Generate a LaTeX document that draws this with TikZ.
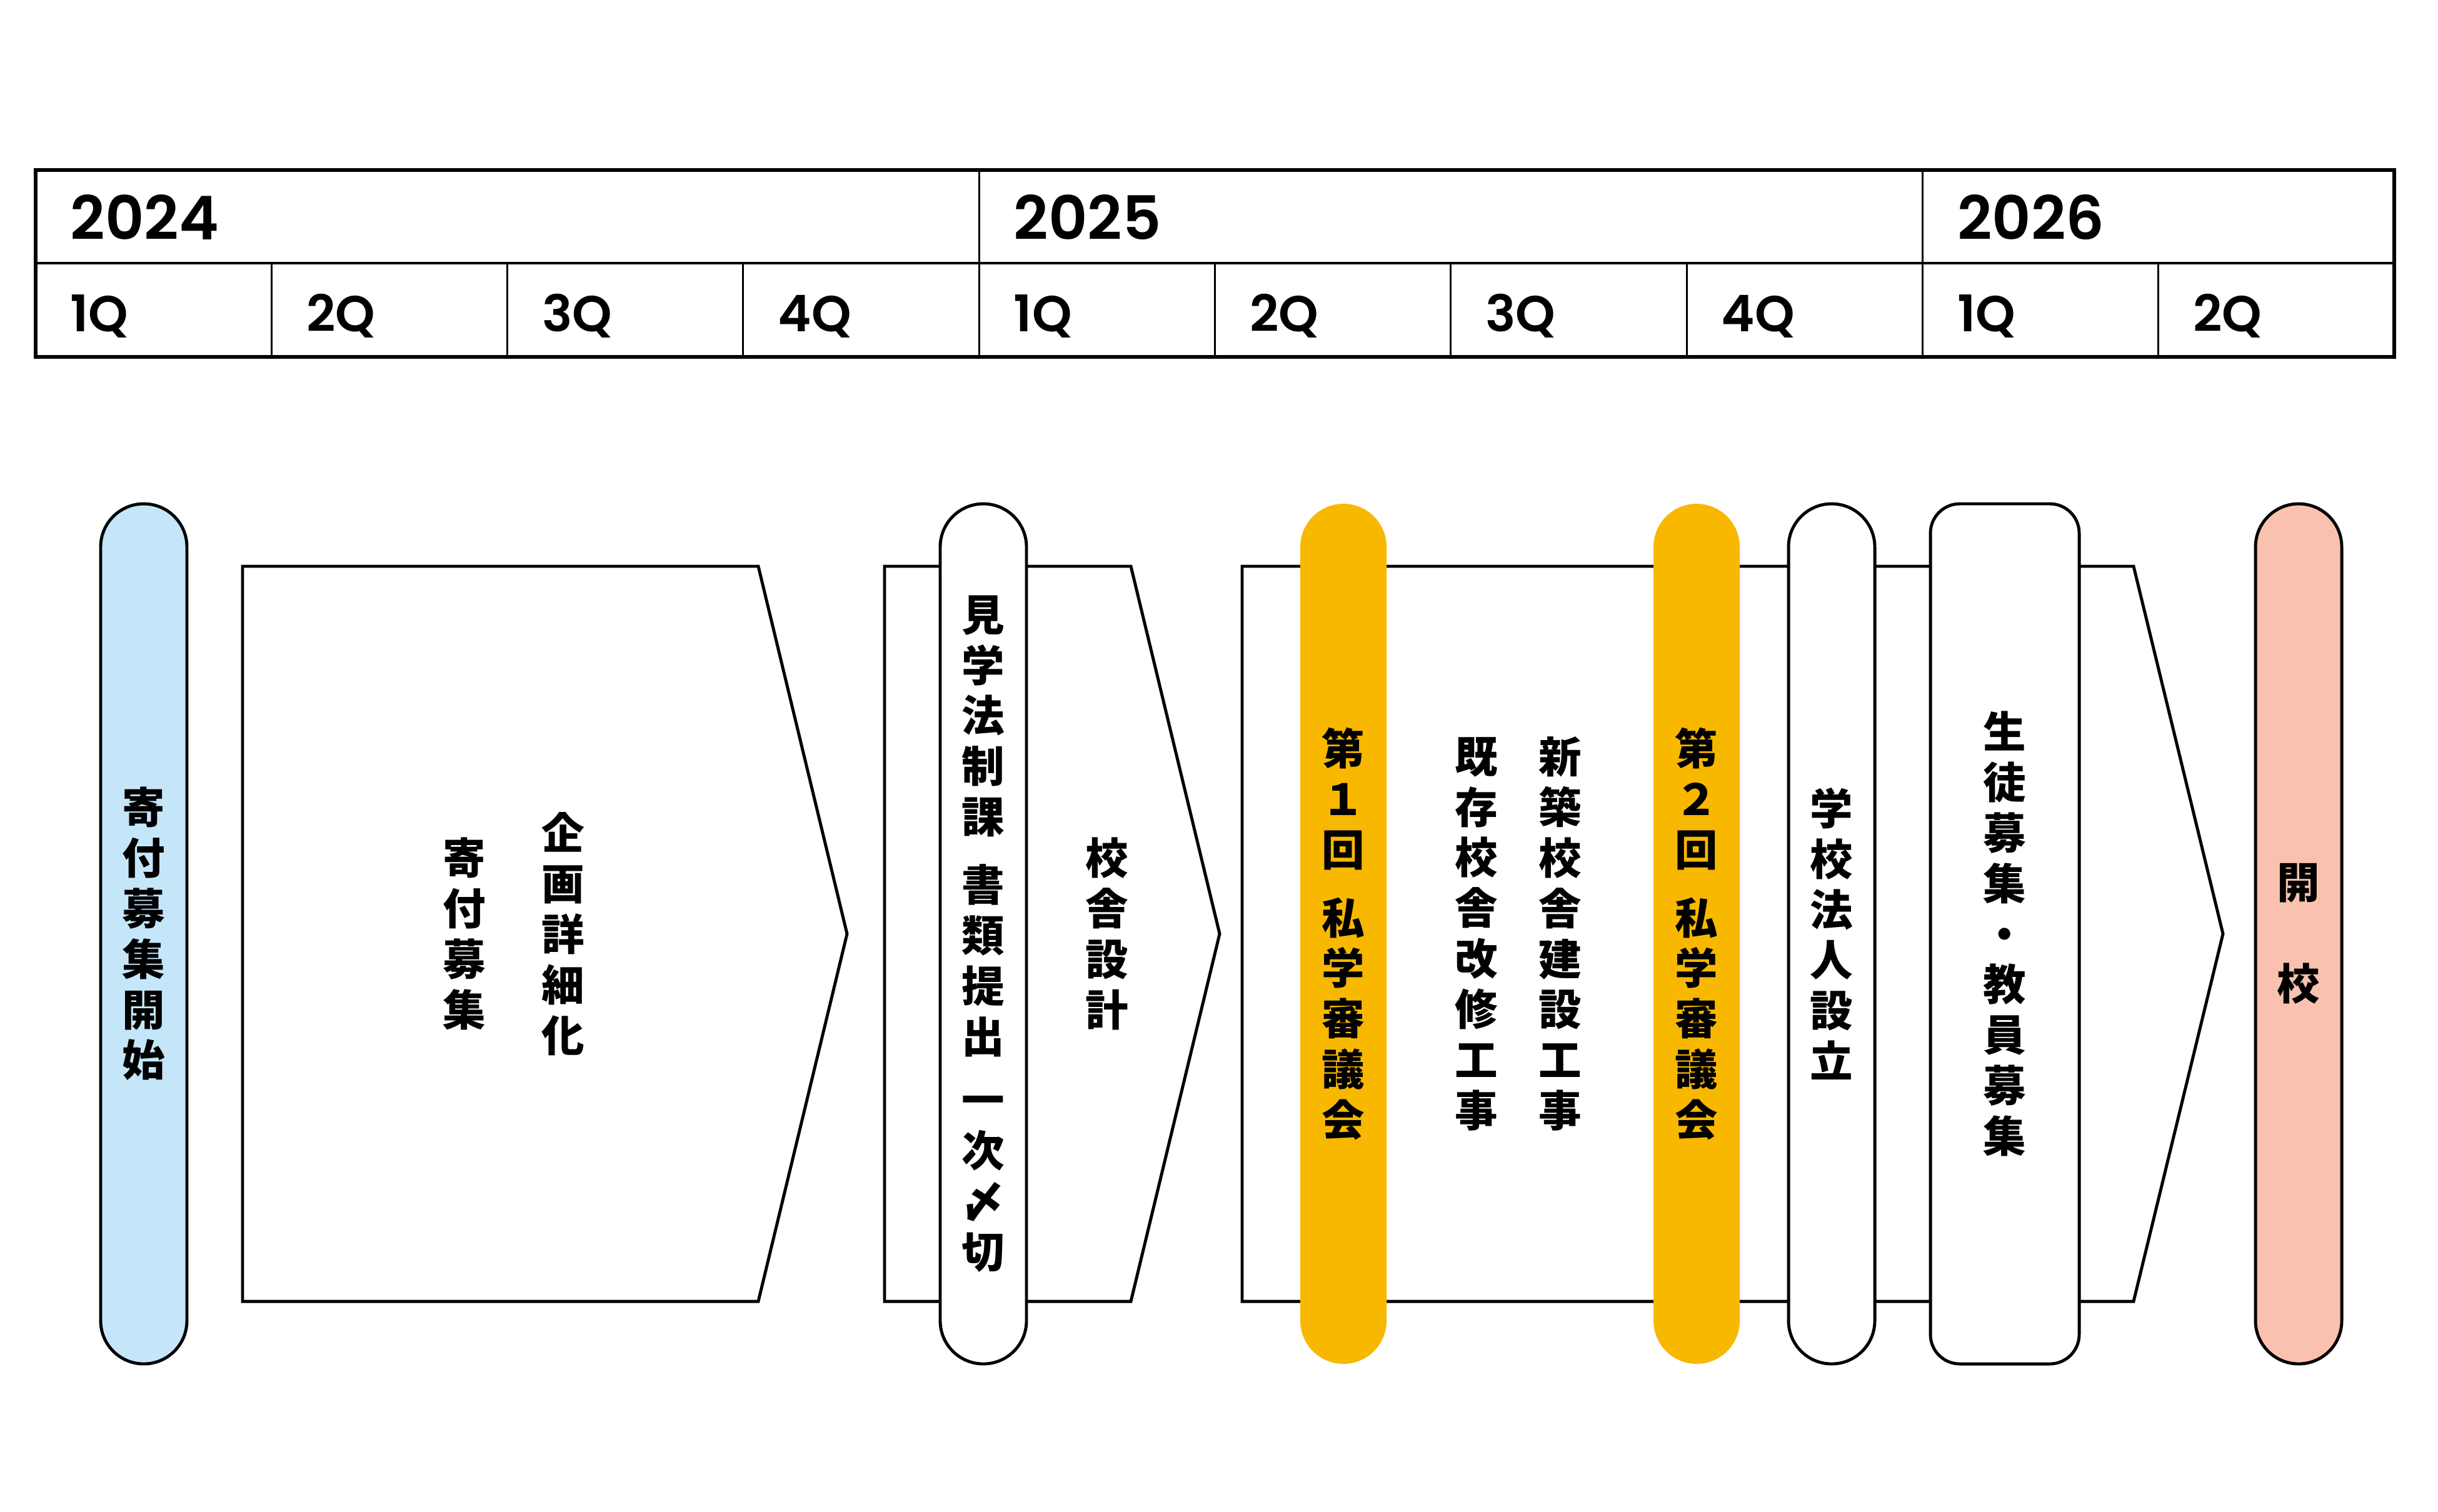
\documentclass[tikz,border=0pt]{standalone}
\usepackage{fontspec}
\usepackage{xcolor}
\usepackage{tikz}
\usetikzlibrary{positioning, calc}
\setmainfont{Poppins}
\newfontfamily\jpfont{Noto Sans CJK JP}
\newfontfamily\numfont{Poppins SemiBold}

\definecolor{pillblue}{HTML}{C5E6F9}
\definecolor{pillyellow}{HTML}{F8B800}
\definecolor{pillpink}{HTML}{F9C1AE}

\begin{document}
\begin{tikzpicture}[
    frame/.style={line width=1.5pt},
    gridline/.style={line width=0.9pt},
    year/.style={anchor=base west, inner sep=0pt, font=\numfont\fontsize{27.5}{30}\selectfont},
    quarter/.style={anchor=base west, inner sep=0pt, font=\numfont\fontsize{23}{26}\selectfont},
    chev/.style={draw, line width=1.4pt, line join=miter, fill=white},
    vtext/.style={align=center, inner sep=0pt, font=\jpfont\bfseries\fontsize{19.5}{23}\selectfont},
    pill/.style={vtext, rectangle, draw, line width=1.4pt, rounded corners=0.69cm, minimum width=1.38cm, minimum height=13.76cm, fill=white},
    review/.style={pill, draw=none, fill=pillyellow},
]
    \useasboundingbox (0,0) rectangle (39,-24.18);

    % Year / quarter table
    \draw[frame] (0.57,-2.72) rectangle (38.30,-5.71);
    \draw[gridline] (0.57,-4.21) -- (38.30,-4.21);
    \foreach \i in {1,...,9}
        \draw[gridline] ({0.57+\i*3.773},-4.21) -- ++(0,-1.50);
    \foreach \i in {4,8}
        \draw[gridline] ({0.57+\i*3.773},-2.72) -- ++(0,-1.49);
    \foreach \yr [count=\k from 0] in {2024,2025,2026}
        \node[year] (y\yr) at ({0.57+\k*4*3.773+0.55},-3.83) {\yr};
    \foreach \qt [count=\k from 0] in {1Q,2Q,3Q,4Q,1Q,2Q,3Q,4Q,1Q,2Q}
        \node[quarter] (q\k) at ({0.57+\k*3.773+0.55},-5.30) {\qt};

    % Phase chevrons
    \draw[chev] (3.88,-9.06) -- (12.13,-9.06) -- (13.55,-14.94) -- (12.13,-20.82) -- (3.88,-20.82) -- cycle;
    \draw[chev] (14.15,-9.06) -- (18.09,-9.06) -- (19.51,-14.94) -- (18.09,-20.82) -- (14.15,-20.82) -- cycle;
    \draw[chev] (19.87,-9.06) -- (34.13,-9.06) -- (35.56,-14.94) -- (34.13,-20.82) -- (19.87,-20.82) -- cycle;

    % Texts inside chevrons
    \node[vtext] (plan) at (9.01,-14.94) {企\\画\\詳\\細\\化};
    \node[vtext] (donate) at (7.43,-14.94) {寄\\付\\募\\集};
    \node[vtext] (design) at (17.71,-14.94) {校\\舎\\設\\計};
    \node[vtext] (newbuild) at (24.96,-14.94) {新\\築\\校\\舎\\建\\設\\工\\事};
    \node[vtext] (renovate) at (23.62,-14.94) {既\\存\\校\\舎\\改\\修\\工\\事};

    % Milestones
    \node[pill, fill=pillblue] (start) at (2.30,-14.94) {寄\\付\\募\\集\\開\\始};
    \node[pill] (submit) at (15.73,-14.94) {見\\学\\法\\制\\課\\[8pt]書\\類\\提\\出\\[6pt]一\\次\\〆\\切};
    \node[review] (council1) at (21.49,-14.94) {第\\１\\回\\[8pt]私\\学\\審\\議\\会};
    \node[review] (council2) at (27.14,-14.94) {第\\２\\回\\[8pt]私\\学\\審\\議\\会};
    \node[pill] (corp) at (29.30,-14.94) {学\\校\\法\\人\\設\\立};
    \node[pill, rounded corners=0.47cm, minimum width=2.38cm] (recruit) at (32.07,-14.94) {生\\徒\\募\\集\\・\\教\\員\\募\\集};
    \node[pill, fill=pillpink] (open) at (36.77,-14.94) {開\\[23pt]校};
\end{tikzpicture}
\end{document}
